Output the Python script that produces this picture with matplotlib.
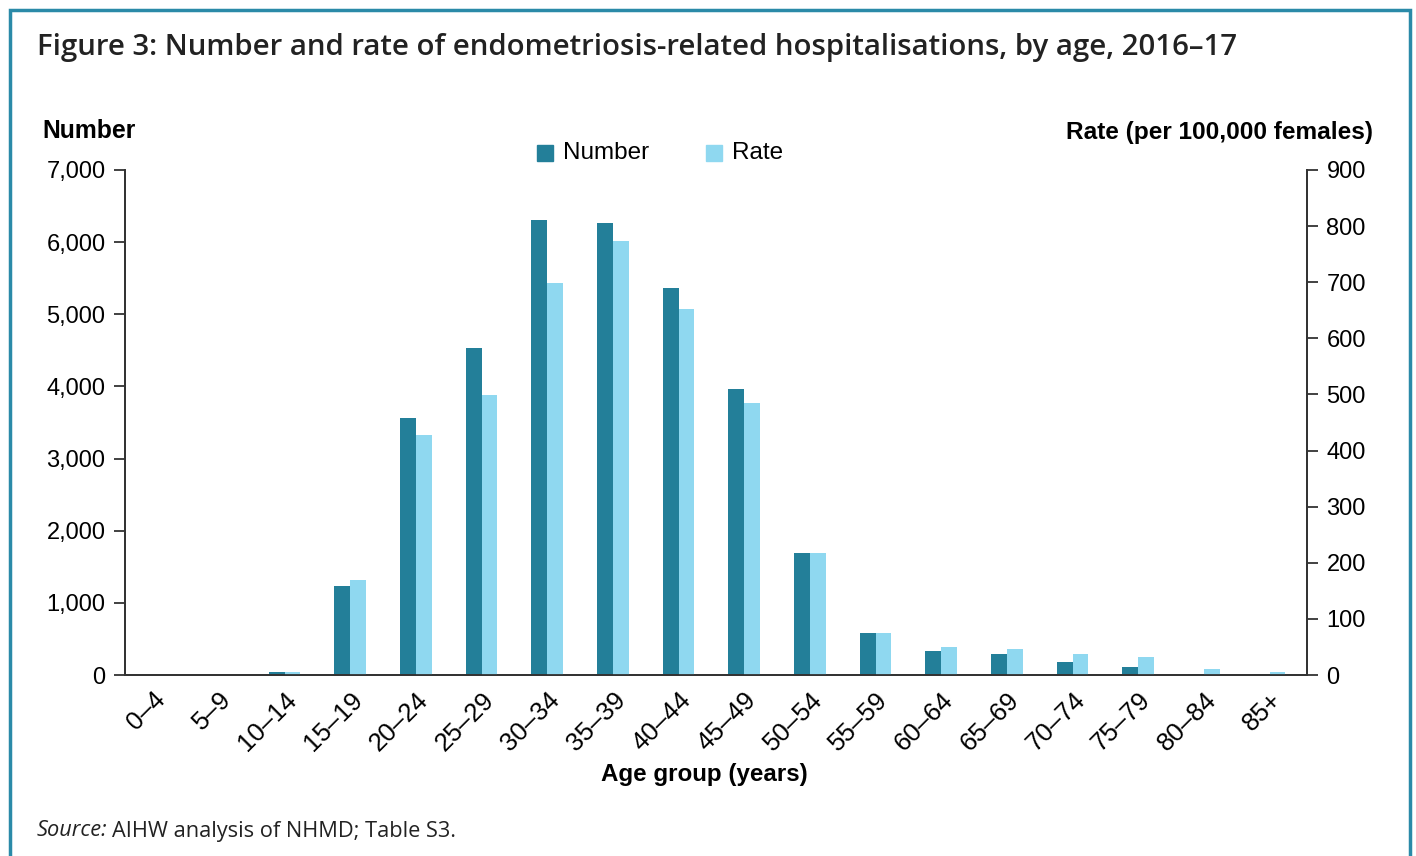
import matplotlib.pyplot as plt
import matplotlib.patches as patches
import numpy as np

age_groups = ['0–4', '5–9', '10–14', '15–19', '20–24', '25–29', '30–34', '35–39', '40–44',
              '45–49', '50–54', '55–59', '60–64', '65–69', '70–74', '75–79', '80–84', '85+']
number = [0, 0, 40, 1234, 3560, 4530, 6300, 6260, 5360,
          3960, 1690, 580, 335, 290, 180, 110, 20, 20]
rate = [0, 0, 5, 170, 428, 499, 698, 774, 653,
        485, 217, 75, 50, 46, 37, 32, 11, 5]

dark = '#237f99'
light = '#8fd8f0'
axis_col = '#333333'

fig = plt.figure(figsize=(14.16, 8.56), dpi=100)
ax = fig.add_axes([125 / 1416, 1 - 675 / 856, (1307 - 125) / 1416, (675 - 170) / 856])
ax2 = ax.twinx()

x = np.arange(len(age_groups))
w = 0.24
ax.bar(x - w / 2, number, width=w, color=dark)
ax2.bar(x + w / 2, rate, width=w, color=light)

ax.set_xlim(-0.43, 17.57)
ax.set_ylim(0, 7000)
ax2.set_ylim(0, 900)
ax.set_yticks(range(0, 7001, 1000))
ax.set_yticklabels([f'{v:,}' for v in range(0, 7001, 1000)])
ax2.set_yticks(range(0, 901, 100))

for a in (ax, ax2):
    a.spines['top'].set_visible(False)
    for s in a.spines.values():
        s.set_color(axis_col)
        s.set_linewidth(1.3)
    a.tick_params(axis='y', length=8, width=1.3, color=axis_col, labelsize=17,
                  labelcolor='black', pad=6)
    for lab in a.get_yticklabels():
        lab.set_fontfamily('Liberation Sans')

ax.set_xticks(x)
ax.set_xticklabels(age_groups, rotation=45, ha='right', va='top', rotation_mode='anchor',
                   fontsize=18.5, fontfamily='Liberation Sans')
ax.tick_params(axis='x', length=0, pad=9)

fig.text(37 / 1416, 1 - 47 / 856, 'Figure 3: Number and rate of endometriosis-related hospitalisations, by age, 2016–17',
         fontsize=21.2, fontfamily='Open Sans', fontweight='semibold', color='#222222', va='center')
fig.text(42 / 1416, 1 - 131 / 856, 'Number', fontsize=17.8, fontweight='bold',
         fontfamily='Liberation Sans', va='center')
fig.text(1373 / 1416, 1 - 133 / 856, 'Rate (per 100,000 females)', fontsize=17.6, fontweight='bold',
         fontfamily='Liberation Sans', va='center', ha='right')
fig.text(704 / 1416, 1 - 775 / 856, 'Age group (years)', fontsize=17.4, fontweight='bold',
         fontfamily='Liberation Sans', va='center', ha='center')
fig.text(37 / 1416, 1 - 831 / 856, r'Source:', fontsize=15.7, fontstyle='italic',
         fontfamily='Open Sans', va='center', color='#222222')
fig.text(112 / 1416, 1 - 831 / 856, 'AIHW analysis of NHMD; Table S3.', fontsize=15.7,
         fontfamily='Open Sans', va='center', color='#222222')

# legend
fig.patches.append(patches.Rectangle((537 / 1416, 1 - 161 / 856), 16 / 1416, 16 / 856,
                                     transform=fig.transFigure, color=dark))
fig.text(563 / 1416, 1 - 153 / 856, 'Number', fontsize=17.5, fontfamily='Liberation Sans', va='center')
fig.patches.append(patches.Rectangle((706 / 1416, 1 - 161 / 856), 16 / 1416, 16 / 856,
                                     transform=fig.transFigure, color=light))
fig.text(732 / 1416, 1 - 153 / 856, 'Rate', fontsize=17.5, fontfamily='Liberation Sans', va='center')

# frame
fig.patches.append(patches.Rectangle((10 / 1416, -0.05), 1400 / 1416, 1.05 - 10 / 856,
                                     transform=fig.transFigure, fill=False,
                                     edgecolor='#2a8aa8', linewidth=2.5))

fig.savefig('out.png', dpi=100)
